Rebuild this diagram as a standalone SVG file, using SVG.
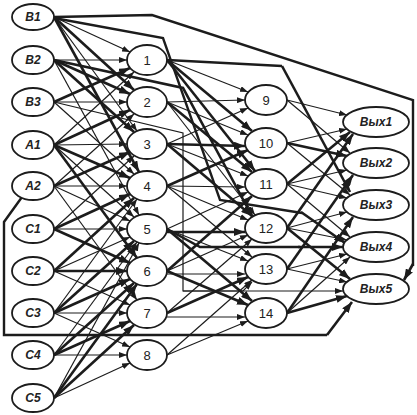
<svg xmlns="http://www.w3.org/2000/svg" width="417" height="415" viewBox="0 0 417 415">
<defs>
<style>
.e{fill:none;stroke:#1c1c1c;stroke-width:1.2;marker-end:url(#at)}
.t{fill:none;stroke:#1c1c1c;stroke-width:2.6;marker-end:url(#ak)}
.p{fill:none;stroke:#1c1c1c;stroke-width:2.4;stroke-linejoin:miter}
.n ellipse{fill:#fff;stroke:#1c1c1c;stroke-width:1.8}
.l text{font-family:"Liberation Sans",Arial,sans-serif;font-weight:bold;font-style:italic;font-size:12px;fill:#222;text-anchor:middle}
.m text{font-family:"Liberation Sans",Arial,sans-serif;font-size:13px;fill:#222;text-anchor:middle}
</style>
<marker id="at" viewBox="0 0 8 6" refX="8" refY="3" markerWidth="8" markerHeight="6" orient="auto" markerUnits="userSpaceOnUse"><path d="M0,0 L8,3 L0,6 z" fill="#1c1c1c"/></marker>
<marker id="ak" viewBox="0 0 11 8" refX="11" refY="4" markerWidth="11" markerHeight="8" orient="auto" markerUnits="userSpaceOnUse"><path d="M0,0 L11,4 L0,8 z" fill="#1c1c1c"/></marker>
</defs>
<rect width="417" height="415" fill="#fff"/>
<g id="connectors">
<!-- left to middle -->
<path class="e" d="M54 17 L130 52"/>
<path class="t" d="M54 17 L134 90"/>
<path class="e" d="M54 17 L137 131"/>
<path class="t" d="M54 17 L139 172"/>
<path class="e" d="M54 60 L127 60"/>
<path class="t" d="M54 60 L130 94"/>
<path class="t" d="M54 60 L134 132"/>
<path class="e" d="M54 60 L139 215"/>
<path class="t" d="M54 102 L130 68"/>
<path class="e" d="M54 102 L127 102"/>
<path class="e" d="M54 102 L134 174"/>
<path class="t" d="M54 145 L130 110"/>
<path class="e" d="M54 145 L127 144"/>
<path class="t" d="M54 145 L130 178"/>
<path class="e" d="M54 145 L134 217"/>
<path class="t" d="M54 145 L137 258"/>
<path class="e" d="M54 145 L134 72"/>
<path class="t" d="M54 186 L130 152"/>
<path class="e" d="M54 186 L127 186"/>
<path class="e" d="M54 186 L130 221"/>
<path class="e" d="M54 186 L134 114"/>
<path class="e" d="M54 186 L137 300"/>
<path class="e" d="M54 229 L134 156"/>
<path class="t" d="M54 229 L130 194"/>
<path class="e" d="M54 229 L127 229"/>
<path class="t" d="M54 229 L130 263"/>
<path class="t" d="M54 271 L134 198"/>
<path class="e" d="M54 271 L130 237"/>
<path class="t" d="M54 271 L127 271"/>
<path class="e" d="M54 271 L130 305"/>
<path class="t" d="M54 313 L134 241"/>
<path class="t" d="M54 313 L130 279"/>
<path class="e" d="M54 313 L127 313"/>
<path class="e" d="M54 313 L130 347"/>
<path class="e" d="M54 313 L137 199"/>
<path class="e" d="M54 355 L137 242"/>
<path class="t" d="M54 355 L134 283"/>
<path class="t" d="M54 355 L130 321"/>
<path class="e" d="M54 355 L127 355"/>
<path class="t" d="M54 398 L137 284"/>
<path class="t" d="M54 398 L134 325"/>
<path class="e" d="M54 398 L130 363"/>
<path class="e" d="M54 398 L139 243"/>
<!-- middle to second middle -->
<path class="e" d="M167 60 L248 92"/>
<path class="t" d="M167 60 L252 131"/>
<path class="t" d="M167 60 L255 171"/>
<path class="e" d="M167 102 L245 100"/>
<path class="e" d="M167 102 L248 135"/>
<path class="t" d="M167 102 L252 172"/>
<path class="e" d="M167 102 L255 215"/>
<path class="e" d="M167 144 L248 108"/>
<path class="t" d="M167 144 L245 146"/>
<path class="e" d="M167 144 L248 176"/>
<path class="t" d="M167 144 L252 216"/>
<path class="t" d="M167 186 L248 150"/>
<path class="e" d="M167 186 L245 187"/>
<path class="e" d="M167 186 L248 220"/>
<path class="e" d="M167 186 L252 257"/>
<path class="e" d="M167 229 L248 192"/>
<path class="t" d="M167 232 L245 232"/>
<path class="e" d="M167 229 L248 261"/>
<path class="t" d="M167 229 L252 301"/>
<path class="t" d="M167 271 L252 196"/>
<path class="e" d="M167 271 L248 235"/>
<path class="e" d="M167 274 L245 274"/>
<path class="t" d="M167 271 L248 305"/>
<path class="e" d="M167 313 L252 239"/>
<path class="t" d="M167 313 L248 277"/>
<path class="e" d="M167 317 L245 317"/>
<path class="e" d="M167 355 L252 280"/>
<path class="e" d="M167 355 L248 321"/>
<!-- second middle to outputs -->
<path class="e" d="M287 100 L347 115"/>
<path class="e" d="M287 100 L350 153"/>
<path class="e" d="M287 143 L347 129"/>
<path class="t" d="M287 143 L347 156"/>
<path class="e" d="M287 143 L350 195"/>
<path class="t" d="M287 184 L350 132"/>
<path class="e" d="M287 184 L347 170"/>
<path class="e" d="M287 184 L347 198"/>
<path class="e" d="M287 184 L350 237"/>
<path class="t" d="M287 228 L353 134"/>
<path class="e" d="M287 228 L347 212"/>
<path class="e" d="M287 228 L347 240"/>
<path class="t" d="M287 228 L350 279"/>
<path class="t" d="M287 269 L353 175"/>
<path class="e" d="M287 269 L347 254"/>
<path class="e" d="M287 269 L347 282"/>
<path class="t" d="M287 313 L353 217"/>
<path class="e" d="M287 313 L350 257"/>
<path class="t" d="M287 313 L347 296"/>
<!-- long polylines -->
<path class="p" d="M54 17 L152 15 L413 100 L413 266" />
<path class="t" d="M413 264 L404 280"/>
<path class="p" d="M54 18 L163 38 L220 200 L302 213"/>
<path class="t" d="M301 212 L345 243"/>
<path class="p" d="M167 60 L282 66"/>
<path class="t" d="M282 66 L350 192"/>
<path class="p" d="M22 197 L4 222 L4 335 L327 335"/>
<path class="t" d="M327 335 L352 302"/>
<path class="e" d="M54 102 L183 133 L183 291 L343 291"/>
<path class="e" d="M183 291 L243 291 L252 282"/>
<path class="p" d="M167 229 L200 247 L300 247"/>
<path class="t" d="M298 247 L343 247"/>
<path class="t" d="M54 60 L183 88 L253 218"/>
</g>
<g class="n l">
<g id="B1"><ellipse cx="33" cy="17" rx="21" ry="13"/><text x="33" y="21">B1</text></g>
<g id="B2"><ellipse cx="33" cy="60" rx="21" ry="14"/><text x="33" y="64">B2</text></g>
<g id="B3"><ellipse cx="33" cy="102" rx="21" ry="14"/><text x="33" y="106">B3</text></g>
<g id="A1"><ellipse cx="33" cy="145" rx="21" ry="14"/><text x="33" y="149">A1</text></g>
<g id="A2"><ellipse cx="33" cy="186" rx="21" ry="14"/><text x="33" y="190">A2</text></g>
<g id="C1"><ellipse cx="33" cy="229" rx="21" ry="14"/><text x="33" y="233">C1</text></g>
<g id="C2"><ellipse cx="33" cy="271" rx="21" ry="14"/><text x="33" y="275">C2</text></g>
<g id="C3"><ellipse cx="33" cy="313" rx="21" ry="14"/><text x="33" y="317">C3</text></g>
<g id="C4"><ellipse cx="33" cy="355" rx="21" ry="14"/><text x="33" y="359">C4</text></g>
<g id="C5"><ellipse cx="33" cy="398" rx="21" ry="14"/><text x="33" y="402">C5</text></g>
</g>
<g class="n m">
<g id="n1"><ellipse cx="147" cy="60" rx="20" ry="15"/><text x="147" y="65">1</text></g>
<g id="n2"><ellipse cx="147" cy="102" rx="20" ry="15"/><text x="147" y="107">2</text></g>
<g id="n3"><ellipse cx="147" cy="144" rx="20" ry="15"/><text x="147" y="149">3</text></g>
<g id="n4"><ellipse cx="147" cy="186" rx="20" ry="15"/><text x="147" y="191">4</text></g>
<g id="n5"><ellipse cx="147" cy="229" rx="20" ry="15"/><text x="147" y="234">5</text></g>
<g id="n6"><ellipse cx="147" cy="271" rx="20" ry="15"/><text x="147" y="276">6</text></g>
<g id="n7"><ellipse cx="147" cy="313" rx="20" ry="15"/><text x="147" y="318">7</text></g>
<g id="n8"><ellipse cx="147" cy="355" rx="20" ry="15"/><text x="147" y="360">8</text></g>
<g id="n9"><ellipse cx="266" cy="100" rx="21" ry="15"/><text x="266" y="105">9</text></g>
<g id="n10"><ellipse cx="266" cy="143" rx="21" ry="15"/><text x="266" y="148">10</text></g>
<g id="n11"><ellipse cx="266" cy="184" rx="21" ry="15"/><text x="266" y="189">11</text></g>
<g id="n12"><ellipse cx="266" cy="228" rx="21" ry="15"/><text x="266" y="233">12</text></g>
<g id="n13"><ellipse cx="266" cy="269" rx="21" ry="15"/><text x="266" y="274">13</text></g>
<g id="n14"><ellipse cx="266" cy="313" rx="21" ry="15"/><text x="266" y="318">14</text></g>
</g>
<g class="n l">
<g id="out1"><ellipse cx="376" cy="122" rx="33" ry="15"/><text x="376" y="126">Вых1</text></g>
<g id="out2"><ellipse cx="376" cy="163" rx="33" ry="15"/><text x="376" y="167">Вых2</text></g>
<g id="out3"><ellipse cx="376" cy="205" rx="33" ry="15"/><text x="376" y="209">Вых3</text></g>
<g id="out4"><ellipse cx="376" cy="247" rx="33" ry="15"/><text x="376" y="251">Вых4</text></g>
<g id="out5"><ellipse cx="376" cy="289" rx="33" ry="15"/><text x="376" y="293">Вых5</text></g>
</g>
</svg>
